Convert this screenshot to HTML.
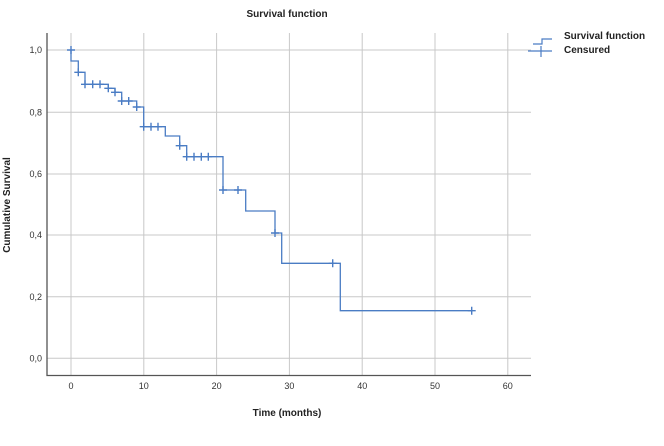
<!DOCTYPE html>
<html><head><meta charset="utf-8"><style>
body{margin:0;background:#fff;}
text{font-family:"Liberation Sans",sans-serif;}
</style></head><body>
<svg width="664" height="441" viewBox="0 0 664 441" xmlns="http://www.w3.org/2000/svg">
<rect width="664" height="441" fill="#fff"/>
<text x="287" y="17" font-size="10" font-weight="bold" fill="#222" text-anchor="middle">Survival function</text>
<g stroke="#c8c8c8" stroke-width="1">
<line x1="47" y1="50" x2="531" y2="50"/><line x1="47" y1="112.3" x2="531" y2="112.3"/>
<line x1="47" y1="174" x2="531" y2="174"/><line x1="47" y1="235" x2="531" y2="235"/>
<line x1="47" y1="296.7" x2="531" y2="296.7"/><line x1="47" y1="358.3" x2="531" y2="358.3"/>
<line x1="71" y1="33" x2="71" y2="375"/><line x1="143.8" y1="33" x2="143.8" y2="375"/>
<line x1="216.6" y1="33" x2="216.6" y2="375"/><line x1="289.4" y1="33" x2="289.4" y2="375"/>
<line x1="362.2" y1="33" x2="362.2" y2="375"/><line x1="435" y1="33" x2="435" y2="375"/>
<line x1="507.8" y1="33" x2="507.8" y2="375"/>
</g>
<path d="M47,33 V375.5 H531" fill="none" stroke="#555" stroke-width="1.3"/>
<g font-size="9" fill="#333" text-anchor="end">
<text x="42" y="53">1,0</text><text x="42" y="115.5">0,8</text><text x="42" y="177">0,6</text>
<text x="42" y="238">0,4</text><text x="42" y="300">0,2</text><text x="42" y="361.5">0,0</text>
</g>
<g font-size="9" fill="#333" text-anchor="middle">
<text x="71" y="389">0</text><text x="143.8" y="389">10</text><text x="216.6" y="389">20</text>
<text x="289.4" y="389">30</text><text x="362.2" y="389">40</text><text x="435" y="389">50</text><text x="507.8" y="389">60</text>
</g>
<text x="287" y="416" font-size="10" font-weight="bold" fill="#222" text-anchor="middle">Time (months)</text>
<text transform="translate(10,205) rotate(-90)" font-size="10" font-weight="bold" fill="#222" text-anchor="middle">Cumulative Survival</text>
<path d="M71,50 V61 H78.3 V72.3 H85 V84.3 H108.3 V88.3 H115 V92.3 H121.7 V101 H136.7 V107 H143.7 V126.7 H165.3 V136 H179.7 V145.7 H186.7 V156.7 H223 V190 H245.7 V211 H275 V233 H281.7 V263.3 H340.3 V310.7 H471.7" fill="none" stroke="#4a7cc4" stroke-width="1.3"/>
<g stroke="#4a7cc4" stroke-width="1.4" fill="none" id="c">
<path d="M71,46v8M67,50h8 M78.3,68.3v8M74.3,72.3h8 M85,80.3v8M81,84.3h8 M92.7,80.3v8M88.7,84.3h8 M100,80.3v8M96,84.3h8 M108.3,84.3v8M104.3,88.3h8 M115,88.3v8M111,92.3h8 M121.7,97v8M117.7,101h8 M128.7,97v8M124.7,101h8 M136.7,103v8M132.7,107h8 M143.7,122.7v8M139.7,126.7h8 M151,122.7v8M147,126.7h8 M158,122.7v8M154,126.7h8 M179.7,141.7v8M175.7,145.7h8 M186.7,152.7v8M182.7,156.7h8 M194,152.7v8M190,156.7h8 M201.3,152.7v8M197.3,156.7h8 M208.3,152.7v8M204.3,156.7h8 M223,186v8M219,190h8 M238,186v8M234,190h8 M275,229v8M271,233h8 M332.7,259.3v8M328.7,263.3h8 M471.7,306.7v8M467.7,310.7h8"/>
</g>
<path d="M533,44 H542 V39 H552" fill="none" stroke="#4a7cc4" stroke-width="1.2"/>
<path d="M528,51 H552 M541,46 V57" fill="none" stroke="#4a7cc4" stroke-width="1.2"/>
<text x="564" y="39" font-size="10" font-weight="bold" fill="#222">Survival function</text>
<text x="564" y="53" font-size="10" font-weight="bold" fill="#222">Censured</text>
</svg>
</body></html>
